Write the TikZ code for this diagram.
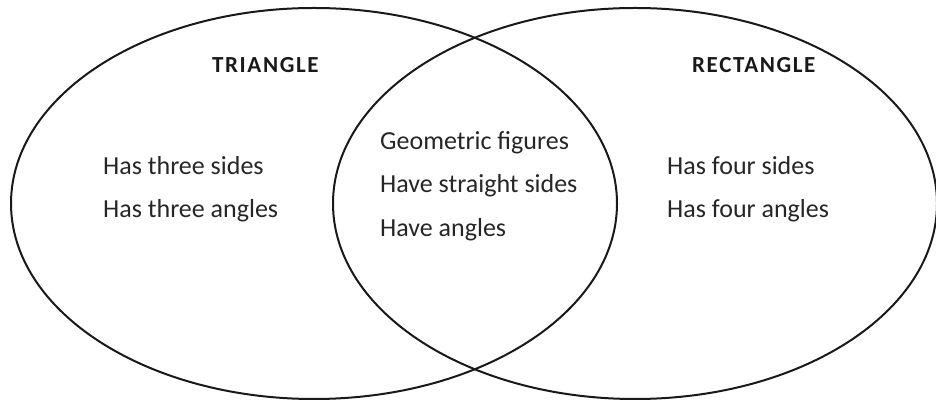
\documentclass[tikz,border=0pt]{standalone}
\usepackage{fontspec}
\setmainfont{Carlito}
\begin{document}
\begin{tikzpicture}[x=1pt,y=1pt]
  \tikzset{ring/.style={draw,line width=2pt,color=black!90},
    lbl/.style={anchor=base west,inner sep=0pt,text=black!85,font=\fontsize{26}{30}\selectfont},
    hd/.style={anchor=base west,inner sep=0pt,text=black!90,font=\fontsize{23}{27}\selectfont\bfseries\addfontfeature{LetterSpace=7}}}
  \useasboundingbox (0,0) rectangle (936,401);
  \draw[ring] (314,197.5) ellipse (303 and 195.5);
  \draw[ring] (635,197.5) ellipse (302 and 195.5);
  \node[hd] (tri) at (212,328) {TRIANGLE};
  \node[hd] (rect) at (692,328) {RECTANGLE};
  \node[lbl] (t1) at (103,226) {Has three sides};
  \node[lbl] (t2) at (103,183) {Has three angles};
  \node[lbl] (c1) at (380,251) {Geometric figures};
  \node[lbl] (c2) at (380,208) {Have straight sides};
  \node[lbl] (c3) at (380,164) {Have angles};
  \node[lbl] (r1) at (667,226) {Has four sides};
  \node[lbl] (r2) at (667,183) {Has four angles};
\end{tikzpicture}
\end{document}
